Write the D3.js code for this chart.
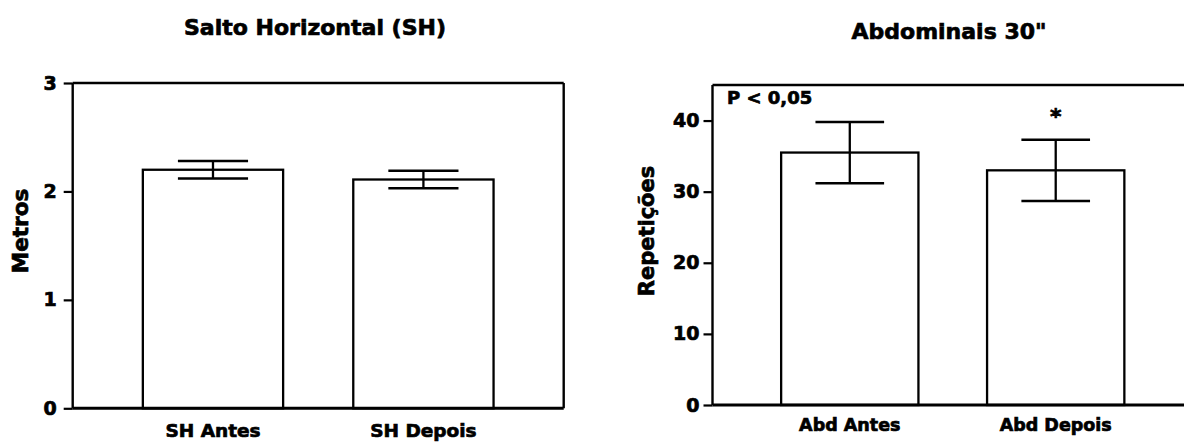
<!DOCTYPE html>
<html>
<head>
<meta charset="utf-8">
<script src="https://cdn.jsdelivr.net/npm/d3@7"></script>
<style>
  html, body { margin: 0; padding: 0; background: #fff; }
  svg { display: block; }
  text { font-family: "DejaVu Sans", "Liberation Sans", Arial, sans-serif; font-weight: bold;
         fill: #000; stroke: #000; stroke-width: 0.7px; }
</style>
</head>
<body>
<svg id="chart" width="1184" height="442"></svg>
<script>
// ---- data ----
const leftTitle = "Salto Horizontal (SH)";
const leftYLabel = "Metros";
const leftCats = ["SH Antes", "SH Depois"];
const leftMeans = [2.20, 2.11];
const leftErr = [0.08, 0.08];
const leftTicks = [0, 1, 2, 3];
const leftDomain = [0, 3];

const rightTitle = "Abdominais 30\"";
const rightYLabel = "Repetições";
const rightCats = ["Abd Antes", "Abd Depois"];
const rightMeans = [35.5, 33.0];
const rightErr = [4.3, 4.3];
const rightTicks = [0, 10, 20, 30, 40];
const rightDomain = [0, 45];
const rightNote = "P < 0,05";
const rightMarks = ["", "*"];

const svg = d3.select("#chart");

function panel(cfg) {
  const g = svg.append("g");
  const x = d3.scaleBand().domain(cfg.cats).range([cfg.x0, cfg.x1])
    .paddingInner(1/3).paddingOuter(1/3);
  const y = d3.scaleLinear().domain(cfg.domain).range([cfg.y0, cfg.y1]);

  // bars
  g.selectAll("rect.bar").data(cfg.cats).join("rect")
    .attr("class", "bar")
    .attr("x", d => x(d))
    .attr("width", x.bandwidth())
    .attr("y", (d, i) => y(cfg.means[i]))
    .attr("height", (d, i) => y(0) - y(cfg.means[i]))
    .attr("fill", "#fff").attr("stroke", "#000").attr("stroke-width", 2.3);

  // error bars
  const eb = g.selectAll("g.err").data(cfg.cats).join("g").attr("class", "err");
  const cx = d => x(d) + x.bandwidth() / 2;
  const hw = x.bandwidth() / 4;
  eb.append("line")
    .attr("x1", cx).attr("x2", cx)
    .attr("y1", (d, i) => y(cfg.means[i] + cfg.err[i]))
    .attr("y2", (d, i) => y(cfg.means[i] - cfg.err[i]))
    .attr("stroke", "#000").attr("stroke-width", 2.3);
  eb.append("line")
    .attr("x1", d => cx(d) - hw).attr("x2", d => cx(d) + hw)
    .attr("y1", (d, i) => y(cfg.means[i] + cfg.err[i]))
    .attr("y2", (d, i) => y(cfg.means[i] + cfg.err[i]))
    .attr("stroke", "#000").attr("stroke-width", 2.5);
  eb.append("line")
    .attr("x1", d => cx(d) - hw).attr("x2", d => cx(d) + hw)
    .attr("y1", (d, i) => y(cfg.means[i] - cfg.err[i]))
    .attr("y2", (d, i) => y(cfg.means[i] - cfg.err[i]))
    .attr("stroke", "#000").attr("stroke-width", 2.5);

  // frame
  g.append("line").attr("x1", cfg.x0).attr("x2", cfg.x1).attr("y1", cfg.y1).attr("y2", cfg.y1)
    .attr("stroke", "#000").attr("stroke-width", 2.4);
  g.append("line").attr("x1", cfg.x1).attr("x2", cfg.x1).attr("y1", cfg.y1).attr("y2", cfg.y0)
    .attr("stroke", "#000").attr("stroke-width", 2.4);
  g.append("line").attr("x1", cfg.x0).attr("x2", cfg.x0).attr("y1", cfg.y1).attr("y2", cfg.y0)
    .attr("stroke", "#000").attr("stroke-width", 2.4);
  g.append("line").attr("x1", cfg.x0).attr("x2", cfg.x1).attr("y1", cfg.y0).attr("y2", cfg.y0)
    .attr("stroke", "#000").attr("stroke-width", 3);

  // y axis
  const ya = g.append("g").attr("transform", `translate(${cfg.x0},0)`)
    .call(d3.axisLeft(y).tickValues(cfg.ticks).tickFormat(d3.format("d"))
      .tickSize(9).tickPadding(cfg.tickPad));
  ya.select(".domain").remove();
  ya.selectAll(".tick line").attr("stroke", "#000").attr("stroke-width", 2.2);
  ya.selectAll(".tick text").attr("font-size", 19).attr("font-family", null);

  // x axis labels
  const xa = g.append("g").attr("transform", `translate(0,${cfg.y0})`)
    .call(d3.axisBottom(x).tickSize(0).tickPadding(cfg.xPad));
  xa.select(".domain").remove();
  xa.selectAll(".tick text").attr("font-size", cfg.xFont).attr("font-family", null);

  // title
  g.append("text").attr("x", cfg.titleX).attr("y", cfg.titleY)
    .attr("text-anchor", "middle").attr("font-size", cfg.titleFont)
    .text(cfg.title);

  // y label
  g.append("text")
    .attr("transform", `translate(${cfg.ylabX},${cfg.ylabY}) rotate(-90)`)
    .attr("text-anchor", "middle").attr("font-size", cfg.ylabFont)
    .text(cfg.ylab);

  return { g, x, y };
}

const L = panel({
  cats: leftCats, means: leftMeans, err: leftErr, ticks: leftTicks, domain: leftDomain,
  x0: 72.7, x1: 563.7, y0: 408.3, y1: 83, tickPad: 7, xPad: 16, xFont: 18.5,
  title: leftTitle, titleX: 315, titleY: 34.5, titleFont: 22,
  ylab: leftYLabel, ylabX: 28, ylabY: 231, ylabFont: 21.5
});

const R = panel({
  cats: rightCats, means: rightMeans, err: rightErr, ticks: rightTicks, domain: rightDomain,
  x0: 712.5, x1: 1193, y0: 405, y1: 85, tickPad: 4, xPad: 14, xFont: 17.5,
  title: rightTitle, titleX: 949, titleY: 38.5, titleFont: 22,
  ylab: rightYLabel, ylabX: 654, ylabY: 231, ylabFont: 21
});

// annotations on right panel
R.g.append("text").attr("x", 727).attr("y", 104).attr("font-size", 18)
  .text(rightNote);
R.g.selectAll("text.mark").data(rightCats).join("text").attr("class", "mark")
  .attr("x", d => R.x(d) + R.x.bandwidth() / 2)
  .attr("y", (d, i) => R.y(rightMeans[i] + rightErr[i]) - 16)
  .attr("text-anchor", "middle").attr("font-size", 22)
  .text((d, i) => rightMarks[i]);
</script>
</body>
</html>
